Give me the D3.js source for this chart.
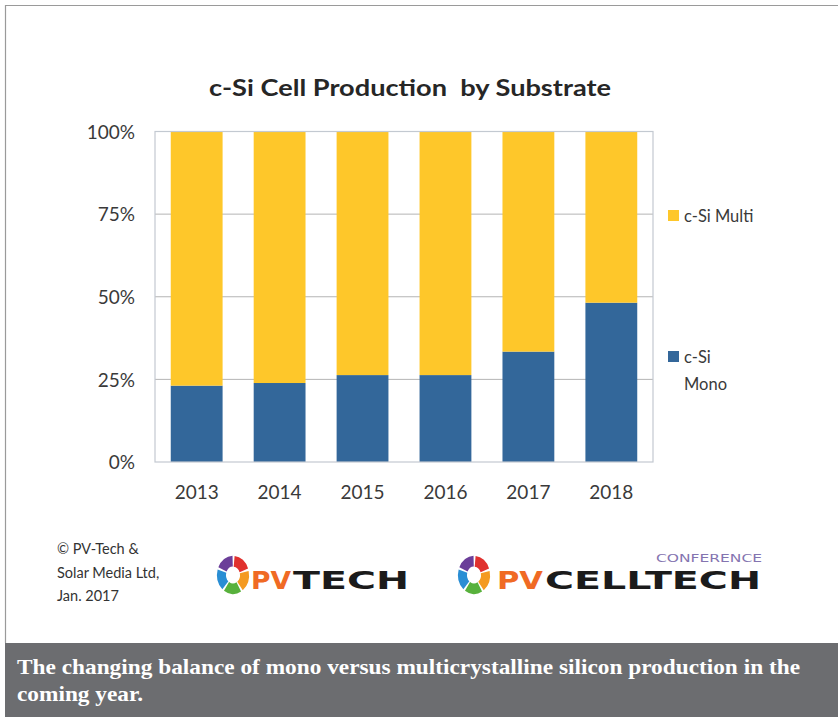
<!DOCTYPE html>
<html>
<head>
<meta charset="utf-8">
<script src="https://cdn.jsdelivr.net/npm/d3@7"></script>
<style>
  html, body { margin: 0; padding: 0; background: #fff; }
  svg { display: block; }
</style>
</head>
<body>
<svg id="chart" width="838" height="717"></svg>
<script>
// Share of c-Si cell production by wafer substrate (percent of total)
const years = ["2013", "2014", "2015", "2016", "2017", "2018"];
const monoShare = [23.1, 23.9, 26.3, 26.3, 33.4, 48.2];
const multiShare = [76.9, 76.1, 73.7, 73.7, 66.6, 51.8];
const seriesNames = ["c-Si Mono", "c-Si Multi"];
const seriesColors = ["#33679A", "#FEC72A"];
const tickValues = [0, 25, 50, 75, 100];
const tickLabels = ["0%", "25%", "50%", "75%", "100%"];
const titleText = "c-Si Cell Production  by Substrate";
const creditLines = ["\u00A9 PV-Tech &", "Solar Media Ltd,", "Jan. 2017"];
const captionLines = [
  "The changing balance of mono versus multicrystalline silicon production in the",
  "coming year."
];

const svg = d3.select("#chart");
const chartFont = "Lato, 'Open Sans', sans-serif";

// Outer frame lines
svg.append("line").attr("x1", 5).attr("x2", 838).attr("y1", 5.5).attr("y2", 5.5)
  .attr("stroke", "#9a9a9a").attr("stroke-width", 1.2);
svg.append("line").attr("x1", 5.5).attr("x2", 5.5).attr("y1", 5).attr("y2", 643)
  .attr("stroke", "#9a9a9a").attr("stroke-width", 1.2);

// Plot geometry
const plot = { left: 155, right: 653, top: 131.5, bottom: 462 };

const x = d3.scaleBand()
  .domain(years)
  .range([plot.left, plot.right])
  .paddingInner(0.375)
  .paddingOuter(0.19);

const y = d3.scaleLinear()
  .domain([0, 100])
  .range([plot.bottom, plot.top]);

// Gridlines
svg.append("g")
  .selectAll("line")
  .data(tickValues.filter(v => v > 0 && v < 100))
  .join("line")
  .attr("x1", plot.left).attr("x2", plot.right)
  .attr("y1", d => y(d)).attr("y2", d => y(d))
  .attr("stroke", "#b4b4b4").attr("stroke-width", 1);

// Stacked bars
const rows = years.map((yr, i) => ({ year: yr, mono: monoShare[i], multi: multiShare[i] }));
const stack = d3.stack().keys(["mono", "multi"]);
const layers = stack(rows);

svg.append("g")
  .selectAll("g")
  .data(layers)
  .join("g")
  .attr("fill", (d, i) => seriesColors[i])
  .selectAll("rect")
  .data(d => d)
  .join("rect")
  .attr("x", d => x(d.data.year))
  .attr("width", x.bandwidth())
  .attr("y", d => y(d[1]))
  .attr("height", d => y(d[0]) - y(d[1]));

// Plot border
svg.append("rect")
  .attr("x", plot.left).attr("y", plot.top)
  .attr("width", plot.right - plot.left).attr("height", plot.bottom - plot.top)
  .attr("fill", "none").attr("stroke", "#c3c9d1").attr("stroke-width", 1.2);

// Y axis labels
const yAxis = d3.axisLeft(y)
  .tickValues(tickValues)
  .tickFormat((d, i) => tickLabels[i])
  .tickSize(0)
  .tickPadding(20);
const gy = svg.append("g").attr("transform", `translate(${plot.left},0)`).call(yAxis);
gy.select(".domain").remove();
gy.selectAll("text")
  .attr("font-family", chartFont).attr("font-size", 19)
  .attr("fill", "#3a3a3a").attr("dy", "0.35em");

// X axis labels
const xAxis = d3.axisBottom(x).tickSize(0).tickPadding(24);
const gx = svg.append("g").attr("transform", `translate(0,${plot.bottom})`).call(xAxis);
gx.select(".domain").remove();
gx.selectAll("text")
  .attr("font-family", chartFont).attr("font-size", 19)
  .attr("fill", "#3a3a3a");

// Title
svg.append("text")
  .attr("x", 410).attr("y", 96)
  .attr("text-anchor", "middle")
  .attr("font-family", chartFont).attr("font-weight", "bold")
  .attr("font-size", 23).attr("fill", "#262626")
  .attr("textLength", 402).attr("lengthAdjust", "spacingAndGlyphs")
  .attr("xml:space", "preserve")
  .text(titleText);

// Legend
const legend = svg.append("g").attr("font-family", chartFont).attr("font-size", 16.5).attr("fill", "#3a3a3a");
legend.append("rect").attr("x", 668).attr("y", 210).attr("width", 11).attr("height", 11).attr("fill", seriesColors[1]);
legend.append("text").attr("x", 684).attr("y", 222).text(seriesNames[1]);
legend.append("rect").attr("x", 668).attr("y", 351).attr("width", 11).attr("height", 11).attr("fill", seriesColors[0]);
legend.append("text").attr("x", 684).attr("y", 363).text("c-Si");
legend.append("text").attr("x", 684).attr("y", 390).text("Mono");

// Credit text
svg.append("g")
  .selectAll("text")
  .data(creditLines)
  .join("text")
  .attr("x", 57).attr("y", (d, i) => 554 + i * 23.5)
  .attr("font-family", chartFont).attr("font-size", 14.5).attr("fill", "#333")
  .text(d => d);

// Ring emblem used in both logos
const ringColors = ["#E0312E", "#F49A21", "#58B13C", "#2A8ED4", "#6B3E99"];
const ringArc = d3.arc().innerRadius(7).outerRadius(16);
function drawRing(cx, cy) {
  const g = svg.append("g").attr("transform", `translate(${cx},${cy}) scale(1,1.2)`);
  const seg = 2 * Math.PI / ringColors.length;
  ringColors.forEach((c, i) => {
    g.append("path")
      .attr("d", ringArc({ startAngle: i * seg + 0.1, endAngle: (i + 1) * seg - 0.03 }))
      .attr("fill", c);
  });
}

function drawWordmark(xStart, pvWidth, restText, restWidth) {
  svg.append("text")
    .attr("x", xStart).attr("y", 589)
    .attr("font-family", "'DejaVu Sans', sans-serif").attr("font-weight", "bold")
    .attr("font-size", 25).attr("fill", "#F06A24")
    .attr("textLength", pvWidth).attr("lengthAdjust", "spacingAndGlyphs")
    .text("PV");
  svg.append("text")
    .attr("x", xStart + pvWidth + 2).attr("y", 589)
    .attr("font-family", "'DejaVu Sans', sans-serif").attr("font-weight", "bold")
    .attr("font-size", 25).attr("fill", "#1b1b1b")
    .attr("textLength", restWidth).attr("lengthAdjust", "spacingAndGlyphs")
    .text(restText);
}

drawRing(233, 575);
drawWordmark(251, 40, "TECH", 116);

drawRing(474, 575);
drawWordmark(497, 46, "CELLTECH", 216);
svg.append("text")
  .attr("x", 762).attr("y", 562).attr("text-anchor", "end")
  .attr("font-family", "'DejaVu Sans', sans-serif").attr("font-size", 11)
  .attr("fill", "#8474B0")
  .attr("textLength", 106).attr("lengthAdjust", "spacingAndGlyphs")
  .text("CONFERENCE");

// Caption band
svg.append("rect").attr("x", 5).attr("y", 643).attr("width", 833).attr("height", 74).attr("fill", "#6C6D70");
const cap = svg.append("g")
  .attr("font-family", "'Liberation Serif', 'DejaVu Serif', serif")
  .attr("font-weight", "bold").attr("font-size", 22).attr("fill", "#ffffff");
const line1 = cap.append("text").attr("x", 17).attr("y", 674).text(captionLines[0]);
const natural1 = line1.node().getComputedTextLength();
const ratio = 783 / natural1;
line1.attr("textLength", 783).attr("lengthAdjust", "spacingAndGlyphs");
const line2 = cap.append("text").attr("x", 17).attr("y", 701).text(captionLines[1]);
const natural2 = line2.node().getComputedTextLength();
line2.attr("textLength", natural2 * ratio).attr("lengthAdjust", "spacingAndGlyphs");
</script>
</body>
</html>
